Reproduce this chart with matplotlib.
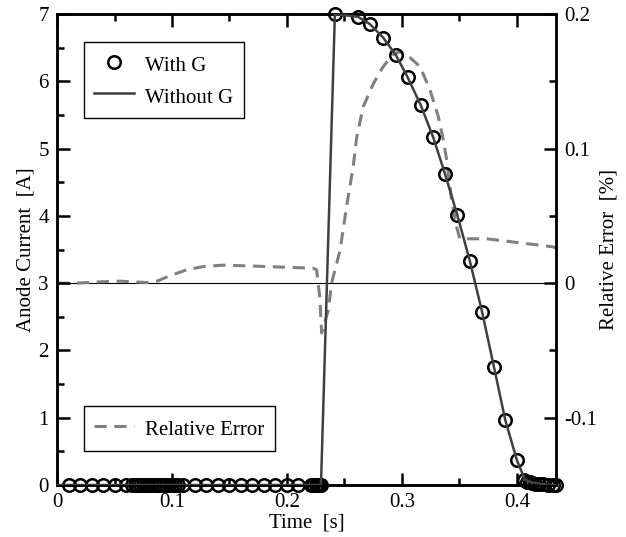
import matplotlib.pyplot as plt
from matplotlib.ticker import MultipleLocator

plt.rcParams['font.family'] = ['Liberation Serif', 'DejaVu Serif']
plt.rcParams['axes.unicode_minus'] = False

# "With G" sample points (time [s], anode current [A])
withg_t = [0.01, 0.02, 0.03, 0.04, 0.05, 0.06, 0.065, 0.0675, 0.07, 0.0725, 0.075,
           0.0775, 0.08, 0.0825, 0.085, 0.0875, 0.09, 0.0925, 0.095, 0.0975, 0.10,
           0.1025, 0.105, 0.11, 0.12, 0.13, 0.14, 0.15, 0.16, 0.17, 0.18, 0.19,
           0.20, 0.21, 0.221, 0.223, 0.225, 0.227, 0.2285, 0.2295,
           0.2417, 0.2617, 0.2722, 0.2837, 0.2948, 0.3050, 0.3163, 0.3272, 0.3374,
           0.3481, 0.3591, 0.3698, 0.3800, 0.3900, 0.4000,
           0.4065, 0.409, 0.411, 0.413, 0.416, 0.419, 0.423, 0.427, 0.431, 0.434]
withg_i = [0.0] * 40 + [7.0, 6.96, 6.85, 6.65, 6.39, 6.06, 5.65, 5.17, 4.63,
                        4.02, 3.33, 2.57, 1.76, 0.96, 0.37,
                        0.07, 0.05, 0.04, 0.03, 0.02, 0.015, 0.01, 0.005, 0.0, 0.0]

# "Without G" line
nog_t = [0.0, 0.2296, 0.2417, 0.2617, 0.2722, 0.2837, 0.2948, 0.3050, 0.3163,
         0.3272, 0.3374, 0.3481, 0.3591, 0.3698, 0.3800, 0.3900, 0.4000,
         0.4070, 0.4130, 0.4200, 0.4300, 0.4340]
nog_i = [0.0, 0.0, 7.0, 6.96, 6.85, 6.65, 6.39, 6.06, 5.65,
         5.17, 4.63, 4.02, 3.33, 2.57, 1.76, 0.96, 0.37,
         0.08, 0.04, 0.02, 0.0, 0.0]

# relative error [%]
err_t = [0.0, 0.016, 0.037, 0.055, 0.078, 0.087, 0.098, 0.113, 0.127, 0.144,
         0.168, 0.197, 0.223, 0.2258, 0.2285, 0.2302, 0.2360, 0.2388, 0.2461,
         0.2519, 0.2577, 0.2606, 0.2663, 0.2750, 0.2837, 0.2924, 0.2980, 0.3041,
         0.3157, 0.3243, 0.3316, 0.3359, 0.3389, 0.3432, 0.3476, 0.3504, 0.3737,
         0.4026, 0.4316, 0.434]
err_v = [0.0, 0.0, 0.001, 0.0015, 0.0005, 0.0015, 0.0055, 0.010, 0.0123, 0.0134,
         0.0128, 0.0119, 0.0111, 0.0099, -0.01, -0.037, -0.020, 0.0, 0.024,
         0.057, 0.087, 0.108, 0.131, 0.148, 0.161, 0.170, 0.172, 0.170,
         0.161, 0.144, 0.124, 0.107, 0.092, 0.062, 0.042, 0.033, 0.033,
         0.030, 0.027, 0.026]

fig = plt.figure(figsize=(6.26, 5.37), dpi=100)
ax = fig.add_axes([0.0911, 0.0968, 0.797, 0.877])
ax2 = ax.twinx()

ax2.axhline(0, color='black', linewidth=0.8, zorder=1)
err_line, = ax2.plot(err_t, err_v, color='#808080', linestyle=(0, (4, 2.5)),
                     linewidth=2.2, label='Relative Error', zorder=2)

ax.set_zorder(ax2.get_zorder() + 1)
ax.patch.set_visible(False)
ax2.patch.set_visible(True)

pts, = ax.plot(withg_t, withg_i, linestyle='none', marker='o', markersize=9,
               markerfacecolor='none', markeredgecolor='black', markeredgewidth=1.8,
               label='With G', clip_on=False, zorder=3)
line, = ax.plot(nog_t, nog_i, color='#404040', linewidth=1.8, label='Without G',
                zorder=4)

ax.set_xlim(0, 0.434)
ax.set_ylim(0, 7)
ax2.set_ylim(-0.15, 0.2)

ax.xaxis.set_major_locator(MultipleLocator(0.1))
ax.xaxis.set_minor_locator(MultipleLocator(0.05))
ax.yaxis.set_major_locator(MultipleLocator(1))
ax.yaxis.set_minor_locator(MultipleLocator(0.5))
ax2.yaxis.set_major_locator(MultipleLocator(0.1))
ax2.yaxis.set_minor_locator(MultipleLocator(0.05))
ax.xaxis.set_major_formatter(plt.FuncFormatter(lambda v, p: '0' if v == 0 else f'{v:g}'))
ax2.yaxis.set_major_formatter(plt.FuncFormatter(lambda v, p: '0' if abs(v) < 1e-9 else f'{v:g}'))

ax.tick_params(axis='both', which='both', direction='in', width=1.8, labelsize=15,
               pad=6, top=True, right=False)
ax.tick_params(which='major', length=9)
ax.tick_params(which='minor', length=5)
ax2.tick_params(axis='y', which='both', direction='in', width=1.8, labelsize=15, pad=6)
ax2.tick_params(which='major', length=9)
ax2.tick_params(which='minor', length=5)

for a in (ax, ax2):
    for s in a.spines.values():
        s.set_linewidth(1.8)

ax.set_xlabel('Time  [s]', fontsize=15, labelpad=1)
ax.set_ylabel('Anode Current  [A]', fontsize=15, labelpad=2)
ax2.set_ylabel('Relative Error  [%]', fontsize=15, labelpad=2)

leg_style = dict(borderaxespad=0, fontsize=15, fancybox=False, framealpha=1,
                 edgecolor='black', handlelength=1.9, handletextpad=0.55,
                 handleheight=1.4, borderpad=0.5)
leg1 = ax.legend(handles=[pts, line], loc='upper left', bbox_to_anchor=(0.054, 0.941),
                 labelspacing=0.35, **leg_style)
leg1.get_frame().set_linewidth(1.0)
leg2 = ax.legend(handles=[err_line], loc='lower left', bbox_to_anchor=(0.054, 0.073),
                 **leg_style)
leg2.get_frame().set_linewidth(1.0)
ax.add_artist(leg1)

fig.savefig('out.png', dpi=100)
